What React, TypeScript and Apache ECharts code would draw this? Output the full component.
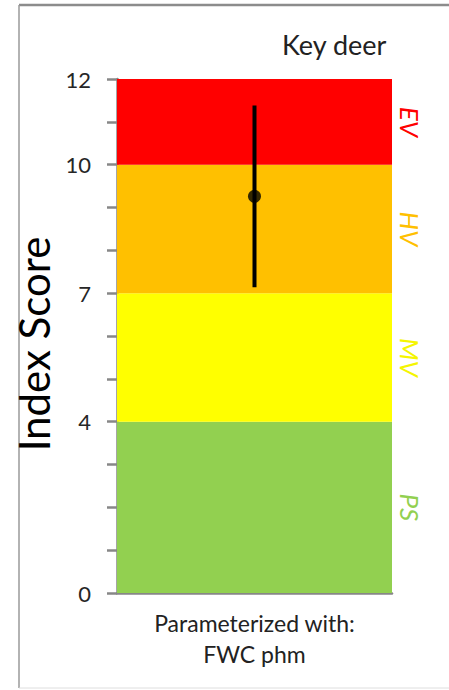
import React, { useEffect, useRef } from "react";
import * as echarts from "echarts";

const categories = ["Parameterized with:\nFWC phm"];
const meanScore = [9.26];
const lowScore = [7.14];
const highScore = [11.38];
const bandNames = ["PS", "MV", "HV", "EV"];
const bandLower = [0, 4, 7, 10];
const bandUpper = [4, 7, 10, 12];
const tickLabels = [0, 4, 7, 10, 12];
const chartTitle = "Key deer";
const yAxisName = "Index Score";

const BAND_COLORS = ["#92D050", "#FFFF00", "#FFC000", "#FF0000"];
const LABEL_COLORS = ["#92D050", "#F5F500", "#FFC000", "#FF0000"];
const FONT = "Lato, 'Open Sans', sans-serif";
const AXIS_GRAY = "#878787";

export default function App() {
  const ref = useRef<HTMLDivElement>(null);
  useEffect(() => {
    if (!ref.current) return;
    const chart = echarts.init(ref.current, undefined, { renderer: "svg" });
    const option: any = {
      animation: false,
      backgroundColor: "#ffffff",
      textStyle: { fontFamily: FONT },
      title: {
        text: chartTitle,
        right: 57,
        top: 26,
        textStyle: { fontFamily: FONT, fontSize: 27, fontWeight: "normal", color: "#222" },
      },
      graphic: [
        { type: "line", shape: { x1: 19, y1: 5, x2: 449, y2: 5 }, style: { stroke: "#8c8c8c", lineWidth: 2.5 } },
        { type: "line", shape: { x1: 19, y1: 5, x2: 19, y2: 688 }, style: { stroke: "#9a9a9a", lineWidth: 1.5 } },
        { type: "line", shape: { x1: 19, y1: 688, x2: 449, y2: 688 }, style: { stroke: "#dedede", lineWidth: 1 } },
      ],
      grid: { left: 117, right: 57, top: 79, bottom: 97, containLabel: false },
      xAxis: {
        type: "category",
        data: categories,
        axisTick: { show: false },
        axisLine: { lineStyle: { color: AXIS_GRAY, width: 2.5 } },
        axisLabel: {
          margin: 14,
          fontFamily: FONT,
          fontSize: 23,
          lineHeight: 31,
          color: "#222",
        },
      },
      yAxis: {
        type: "value",
        min: 0,
        max: 12,
        interval: 1,
        name: yAxisName,
        nameLocation: "middle",
        nameRotate: 90,
        nameGap: 40,
        nameTextStyle: { fontFamily: FONT, fontSize: 42, color: "#000", padding: [0, 16, 0, 0] },
        splitLine: { show: false },
        axisLine: { show: true, lineStyle: { color: AXIS_GRAY, width: 2.5 } },
        axisTick: { show: true, length: 10, lineStyle: { color: AXIS_GRAY, width: 2.5 } },
        axisLabel: {
          margin: 26,
          fontFamily: FONT,
          fontSize: 22,
          color: "#262626",
          padding: [8, 0, 0, 0],
          formatter: (v: number) => (tickLabels.indexOf(v) >= 0 ? String(v) : ""),
        },
      },
      series: [
        {
          type: "line",
          data: [],
          z: 1,
          silent: true,
          markArea: {
            silent: true,
            data: bandNames.map((n, i) => [
              {
                name: n,
                yAxis: bandLower[i],
                itemStyle: { color: BAND_COLORS[i], opacity: 1 },
                label: {
                  show: true,
                  position: "right",
                  distance: 18,
                  rotate: -90,
                  align: "center",
                  verticalAlign: "middle",
                  fontStyle: "italic",
                  fontFamily: FONT,
                  fontSize: 26,
                  color: LABEL_COLORS[i],
                },
              },
              { yAxis: bandUpper[i] },
            ]),
          },
        },
        {
          type: "custom",
          z: 5,
          data: categories.map((c, i) => [i, lowScore[i], highScore[i]]),
          encode: { x: 0, y: [1, 2] },
          renderItem: (params: any, api: any) => {
            const p1 = api.coord([api.value(0), api.value(1)]);
            const p2 = api.coord([api.value(0), api.value(2)]);
            return {
              type: "line",
              shape: { x1: p1[0], y1: p1[1], x2: p2[0], y2: p2[1] },
              style: { stroke: "#000", lineWidth: 4 },
            };
          },
        },
        {
          type: "scatter",
          z: 6,
          symbol: "circle",
          symbolSize: 13,
          itemStyle: { color: "#000" },
          data: categories.map((c, i) => [i, meanScore[i]]),
        },
      ],
    };
    chart.setOption(option);
    return () => chart.dispose();
  }, []);
  return (
    <div
      ref={ref}
      style={{ position: "fixed", left: 0, top: 0, width: 449, height: 690 }}
    />
  );
}
